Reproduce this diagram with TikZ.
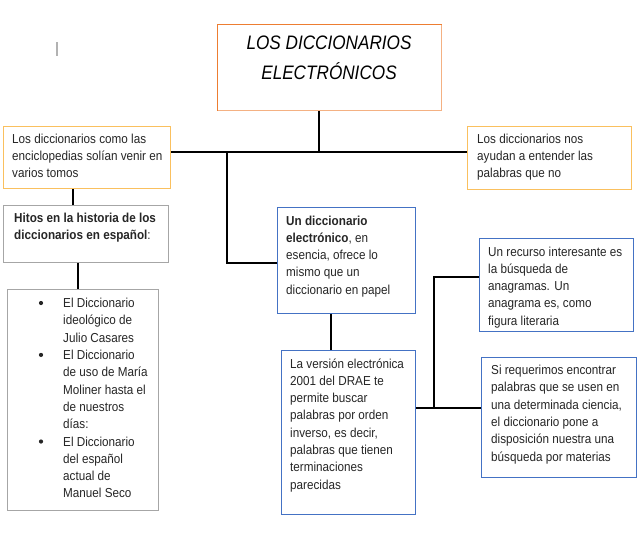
\documentclass[tikz,border=0pt]{standalone}
\usepackage{fontspec}
\setmainfont[FakeStretch=0.9]{Liberation Sans}
\newfontfamily\titlefont[FakeStretch=0.88]{Liberation Sans}
\definecolor{orD}{HTML}{ED7D31}
\definecolor{orL}{HTML}{F4B183}
\definecolor{yel}{HTML}{FAC05E}
\definecolor{gry}{HTML}{A6A6A6}
\definecolor{blu}{HTML}{4472C4}
\definecolor{ink}{HTML}{262626}
\begin{document}
\begin{tikzpicture}[x=1pt,y=-1pt,
  box/.style={draw, line width=0.9pt, inner sep=0pt, anchor=north west},
  txt/.style={inner sep=0pt, anchor=base west, text=ink, font=\fontsize{13}{17.3}\selectfont},
  ttl/.style={inner sep=0pt, anchor=base, font=\titlefont\itshape\fontsize{19.5}{29}\selectfont},
  conn/.style={line width=1.4pt, black}]
\useasboundingbox (0,0) rectangle (640,539);
\fill[white] (0,0) rectangle (640,539);

% cursor mark
\draw[gray!60, line width=1.2pt] (57,42) -- (57,56);

% boxes
\node[box, draw=orL, minimum width=224pt, minimum height=86pt] (title) at (217,24) {};
\draw[orD, line width=0.9pt] (title.south west) -- (title.north west) -- (title.north east);
\node[ttl] (tt1) at (329,49) {LOS DICCIONARIOS};
\node[ttl] (tt2) at (329,79) {ELECTRÓNICOS};

\node[box, draw=yel, minimum width=167pt, minimum height=62pt] (lb) at (3,126) {};
\node[box, draw=yel, minimum width=164pt, minimum height=63pt] (rb) at (467,126) {};
\node[box, draw=gry, minimum width=165pt, minimum height=57pt] (hi) at (3,205) {};
\node[box, draw=gry, minimum width=151pt, minimum height=221pt] (li) at (7,289) {};
\node[box, draw=blu, minimum width=138pt, minimum height=106pt] (ud) at (277,207) {};
\node[box, draw=blu, minimum width=134pt, minimum height=164pt] (lv) at (281,350) {};
\node[box, draw=blu, minimum width=154pt, minimum height=93pt] (rc) at (479,238) {};
\node[box, draw=blu, minimum width=155pt, minimum height=120pt] (si) at (481,357) {};

% texts
\node[txt] (lbt) at (12,143.3) {\parbox[t]{200pt}{\raggedright Los diccionarios como las\\enciclopedias solían venir en\\varios tomos}};
\node[txt] (rbt) at (477,143.3) {\parbox[t]{200pt}{\raggedright Los diccionarios nos\\ayudan a entender las\\palabras que no}};
\node[txt] (hit) at (14,222) {\parbox[t]{200pt}{\raggedright \textbf{Hitos en la historia de los}\\\textbf{diccionarios en español}:}};
\node[txt] (udt) at (286,225) {\parbox[t]{200pt}{\raggedright \textbf{Un diccionario}\\\textbf{electrónico}, en\\esencia, ofrece lo\\mismo que un\\diccionario en papel}};
\node[txt] (lvt) at (290,368) {\parbox[t]{200pt}{\raggedright La versión electrónica\\2001 del DRAE te\\permite buscar\\palabras por orden\\inverso, es decir,\\palabras que tienen\\terminaciones\\parecidas}};
\node[txt] (rct) at (488,256) {\parbox[t]{200pt}{\raggedright Un recurso interesante es\\la búsqueda de\\anagramas. Un\\anagrama es, como\\figura literaria}};
\node[txt] (sit) at (491,374.5) {\parbox[t]{200pt}{\raggedright Si requerimos encontrar\\palabras que se usen en\\una determinada ciencia,\\el diccionario pone a\\disposición nuestra una\\búsqueda por materias}};

% list items
\node[txt] (it1) at (63,307.5) {\parbox[t]{100pt}{\raggedright El Diccionario\\ideológico de\\Julio Casares}};
\node[txt] (it2) at (63,359.4) {\parbox[t]{100pt}{\raggedright El Diccionario\\de uso de María\\Moliner hasta el\\de nuestros\\días:}};
\node[txt] (it3) at (63,446.0) {\parbox[t]{100pt}{\raggedright El Diccionario\\del español\\actual de\\Manuel Seco}};
\foreach \n in {it1,it2,it3}
  \fill[ink] ([xshift=-22pt,yshift=4.5pt]\n.base west) circle (2.1pt);

% connectors
\coordinate (hub) at (319,152);
\coordinate (j1) at (227,152);
\coordinate (j1b) at (227,263);
\coordinate (j2) at (434,408);
\coordinate (j3) at (434,277);
\draw[conn] (hub |- title.south) -- (hub);
\draw[conn] (lb.east |- hub) -- (rb.west |- hub);
\draw[conn] (j1) -- (j1b) -- (ud.west |- j1b);
\draw[conn] ([xshift=70pt]lb.south west) -- ([xshift=70pt]hi.north west);
\draw[conn] ([xshift=75pt]hi.south west) -- ([xshift=71pt]li.north west);
\draw[conn] ([xshift=54pt]ud.south west) -- ([xshift=50pt]lv.north west);
\draw[conn] (lv.east |- j2) -- (si.west |- j2);
\draw[conn] (j2) -- (j3) -- (rc.west |- j3);
\end{tikzpicture}
\end{document}
